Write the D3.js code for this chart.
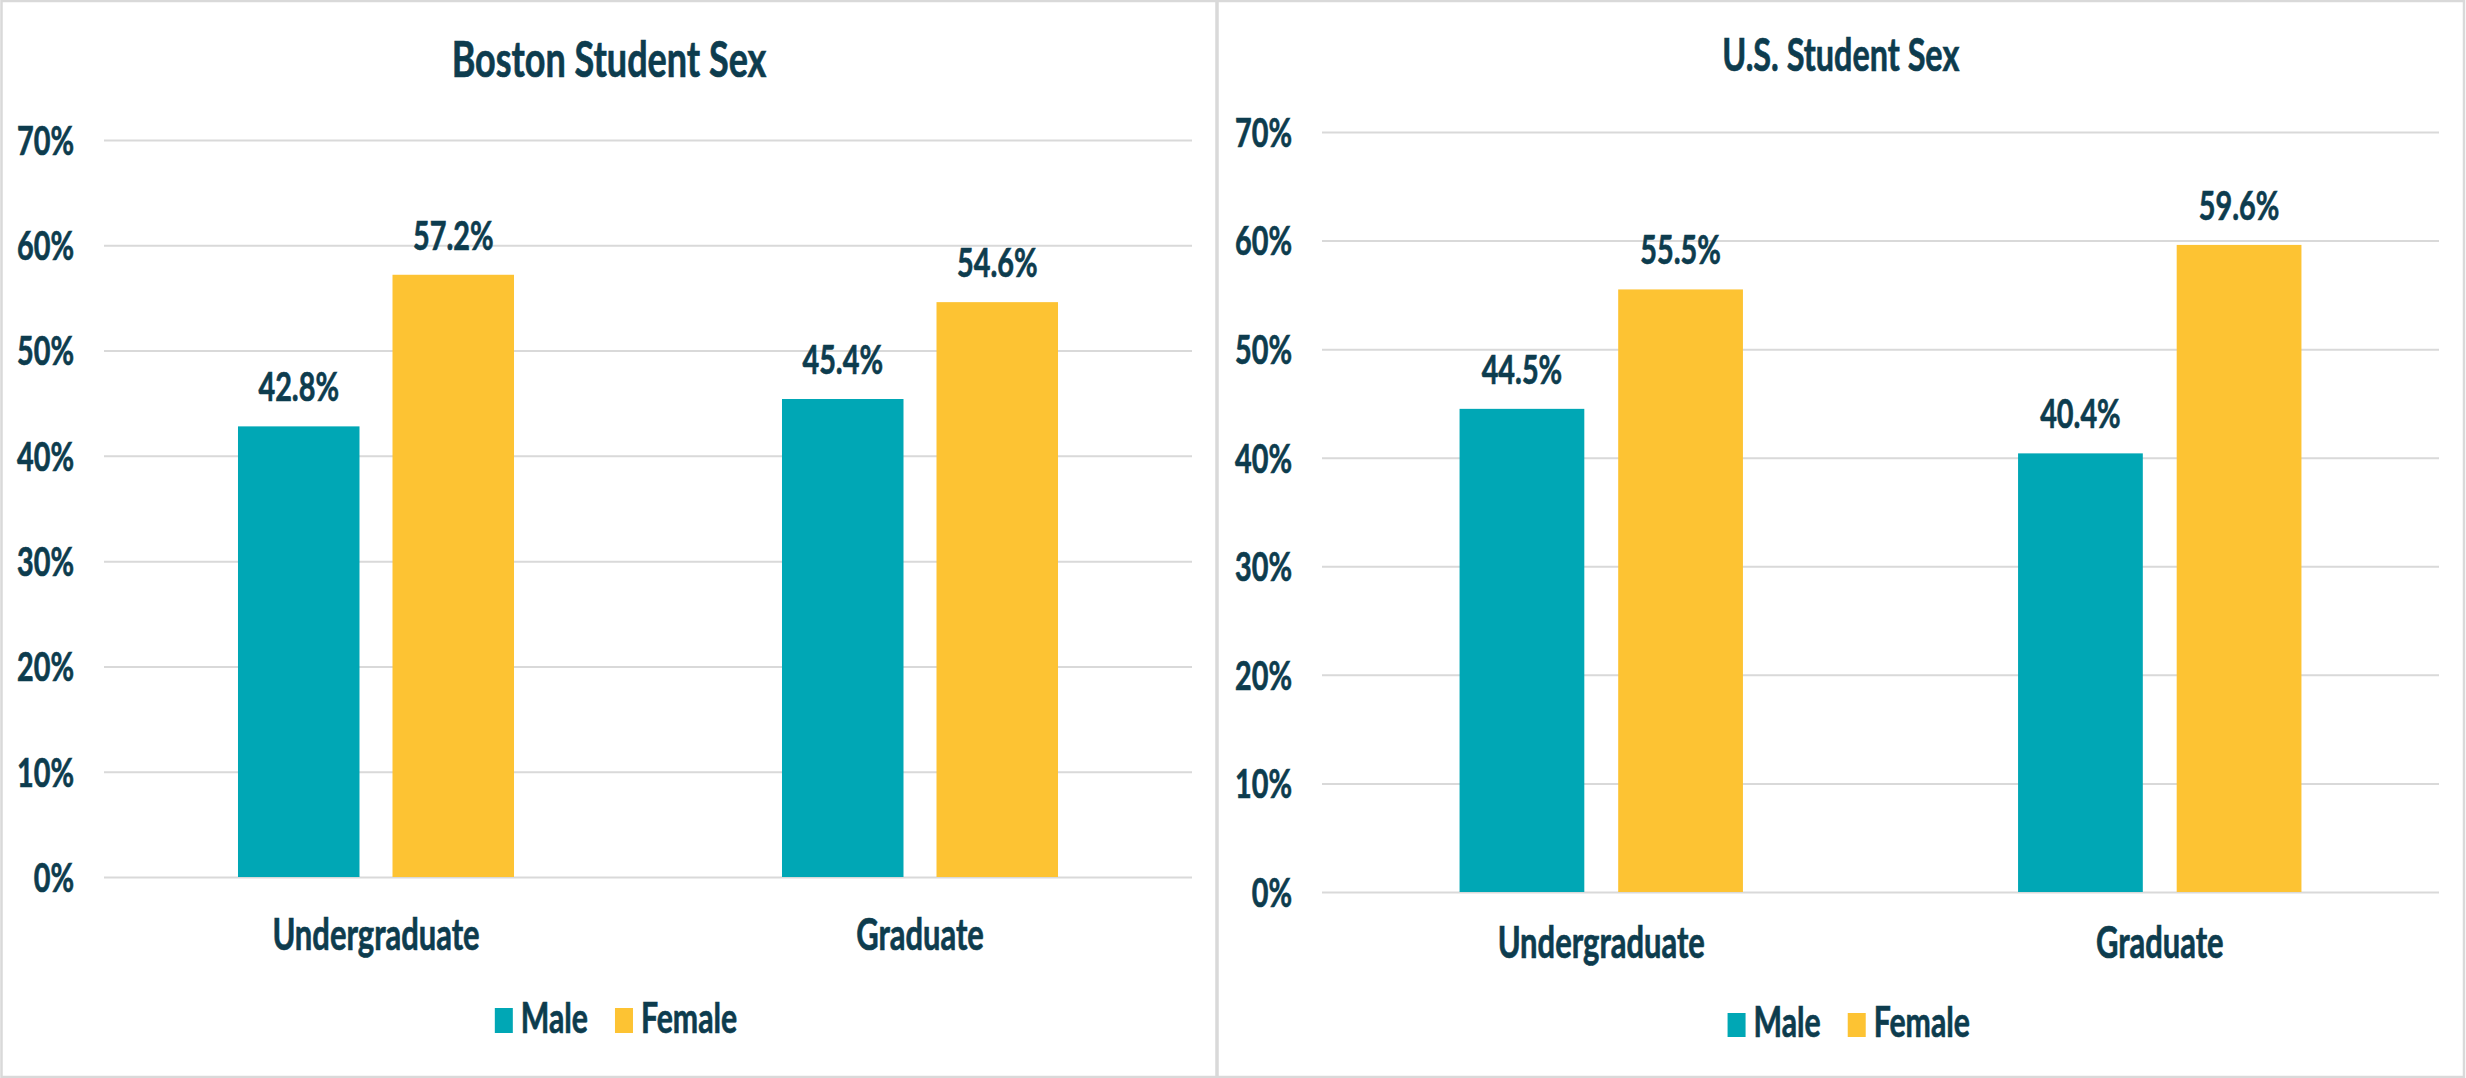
<!DOCTYPE html>
<html><head><meta charset="utf-8">
<script src="https://cdn.jsdelivr.net/npm/d3@7"></script>
<style>html,body{margin:0;padding:0;background:#fff;overflow:hidden} svg{display:block}</style>
</head><body>
<svg id="chart" width="2466" height="1078"></svg>
<script>
// ---- data ----
const categories = ["Undergraduate", "Graduate"];
const seriesNames = ["Male", "Female"];
const bostonMale = [42.8, 45.4];
const bostonFemale = [57.2, 54.6];
const usMale = [44.5, 40.4];
const usFemale = [55.5, 59.6];
const yTickValues = [0, 10, 20, 30, 40, 50, 60, 70];
const yTickLabels = ["0%", "10%", "20%", "30%", "40%", "50%", "60%", "70%"];
const chartTitles = ["Boston Student Sex", "U.S. Student Sex"];

// ---- style ----
const colors = { Male: "#00a7b5", Female: "#fdc333" };
const textColor = "#0d3c4e";
const gridColor = "#d9d9d9";
const K = 0.72; // horizontal text compression
const FONT = "Lato, 'Open Sans', sans-serif";

const svg = d3.select("#chart");
svg.append("rect").attr("width", 2466).attr("height", 1078).attr("fill", "#fff");

const panels = [
  { title: chartTitles[0], male: bostonMale, female: bostonFemale,
    px0: 1.5, px1: 1216.5, l: 104, r: 1192, t: 140, b: 877,
    titleY: 77, titleSize: 50, xLabelY: 950, legY: 1033, legH: 25, legDx: 7 },
  { title: chartTitles[1], male: usMale, female: usFemale,
    px0: 1217.5, px1: 2464, l: 1322, r: 2439, t: 132, b: 892,
    titleY: 71, titleSize: 45, xLabelY: 958, legY: 1037, legH: 24, legDx: 8 }
];

function styleText(sel, size) {
  return sel.attr("font-family", FONT).attr("font-weight", 700)
    .attr("font-size", size).attr("fill", textColor)
    .attr("stroke", textColor).attr("stroke-width", 0.7);
}
function addText(g, x, y, str, size, anchor) {
  const t = g.append("text").attr("transform", `translate(${x},${y}) scale(${K},1)`)
    .attr("text-anchor", anchor || "middle").text(str);
  styleText(t, size);
  return t;
}

panels.forEach(p => {
  const g = svg.append("g");
  // panel border
  g.append("rect").attr("x", p.px0).attr("y", 1).attr("width", p.px1 - p.px0).attr("height", 1076)
    .attr("fill", "none").attr("stroke", "#d9d9d9").attr("stroke-width", 2.5);

  const cx = (p.px0 + p.px1) / 2;
  addText(g, cx, p.titleY, p.title, p.titleSize);

  const y = d3.scaleLinear().domain([0, 70]).range([p.b, p.t]);
  const x0 = d3.scaleBand().domain(categories).range([p.l, p.r]).paddingInner(0.4926).paddingOuter(0.2463);
  const x1 = d3.scaleBand().domain(seriesNames).range([0, x0.bandwidth()]).paddingInner(0.2136).paddingOuter(0);

  // y axis + grid
  const yAxis = d3.axisLeft(y).tickValues(yTickValues)
    .tickFormat((d, i) => yTickLabels[i]).tickSize(-(p.r - p.l)).tickPadding(0);
  const ga = g.append("g").attr("transform", `translate(${p.l},0)`).call(yAxis);
  ga.select(".domain").remove();
  ga.selectAll(".tick line").attr("stroke", gridColor).attr("stroke-width", 2);
  styleText(ga.selectAll(".tick text"), 40)
    .attr("x", 0).attr("dy", "0.36em")
    .attr("transform", `translate(-30,0) scale(${K},1)`);

  // x axis labels
  const xAxis = d3.axisBottom(x0).tickSize(0).tickPadding(0);
  const gx = g.append("g").attr("transform", `translate(0,${p.b})`).call(xAxis);
  gx.select(".domain").remove();
  styleText(gx.selectAll(".tick text"), 43)
    .attr("y", 0).attr("dy", 0)
    .attr("transform", `translate(0,${p.xLabelY - p.b}) scale(${K},1)`);

  // bars
  const rows = categories.map((c, i) => ({ cat: c, Male: p.male[i], Female: p.female[i] }));
  const cg = g.selectAll(".cat").data(rows).join("g")
    .attr("transform", d => `translate(${x0(d.cat)},0)`);
  cg.selectAll("rect").data(d => seriesNames.map(s => ({ s, v: d[s] }))).join("rect")
    .attr("x", d => x1(d.s)).attr("y", d => y(d.v))
    .attr("width", x1.bandwidth()).attr("height", d => p.b - y(d.v))
    .attr("fill", d => colors[d.s]);
  cg.each(function (d) {
    const gg = d3.select(this);
    seriesNames.forEach(s => {
      addText(gg, x1(s) + x1.bandwidth() / 2, y(d[s]) - 25, d[s].toFixed(1) + "%", 40);
    });
  });

  // legend
  const lg = g.append("g");
  const sw = 18, gapT = 8, gapItem = 27;
  let xpos = 0;
  seriesNames.forEach((s, i) => {
    lg.append("rect").attr("x", xpos).attr("y", p.legY - p.legH).attr("width", sw).attr("height", p.legH)
      .attr("fill", colors[s]);
    xpos += sw + gapT;
    const t = addText(lg, xpos, p.legY, s, 42, "start");
    xpos += t.node().getComputedTextLength() * K;
    if (i < seriesNames.length - 1) xpos += gapItem;
  });
  lg.attr("transform", `translate(${cx + p.legDx - xpos / 2},0)`);
});
</script>
</body></html>
